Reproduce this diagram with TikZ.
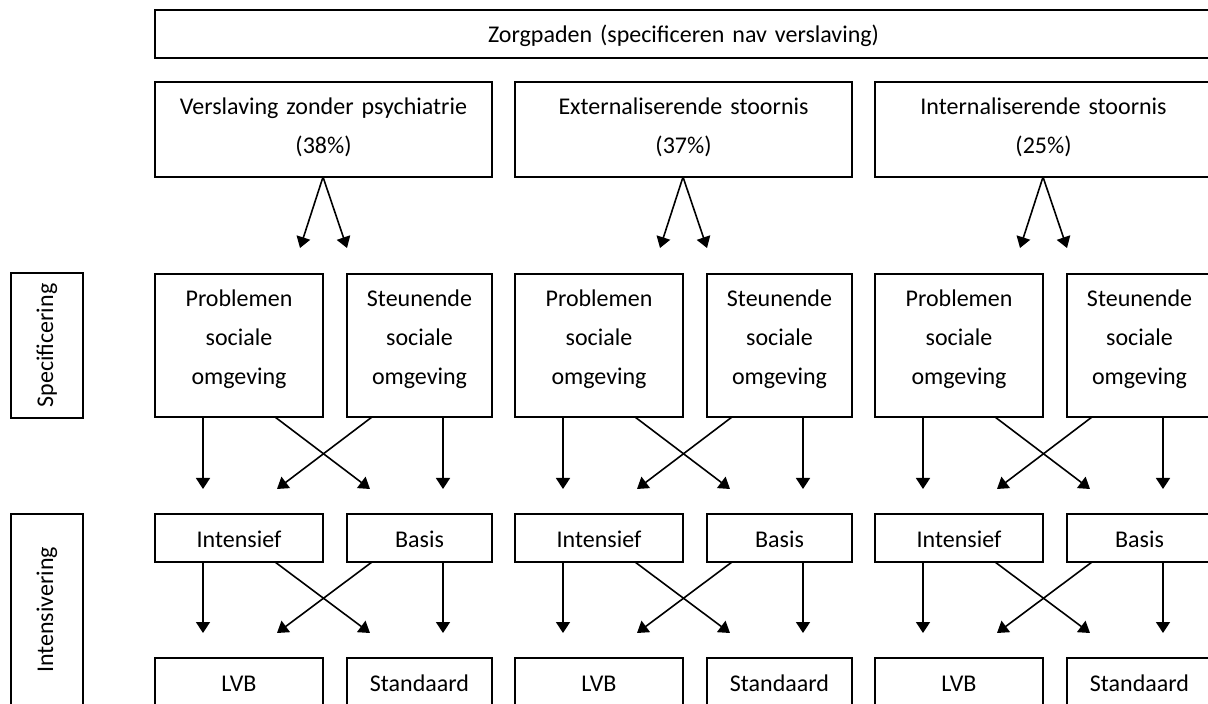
\documentclass[tikz,border=0pt]{standalone}
\usepackage{fontspec}
\setmainfont{Carlito}
\usetikzlibrary{arrows.meta}

\begin{document}
\begin{tikzpicture}[x=0.5pt,y=-0.5pt,
    every node/.style={font=\fontsize{12}{19.5}\selectfont},
    cell/.style 2 args={draw,semithick,inner sep=0pt,outer sep=0pt,anchor=north west,align=center,
      text width=#1,text height=16.5pt,text depth=#2},
    sidebox/.style={draw,semithick,inner sep=0pt,rotate=90,minimum width=#1,minimum height=36pt},
    >={Triangle[width=7pt,length=5.5pt]}]
    \useasboundingbox (0,0) rectangle (1208,704);
    \node[cell={528.5pt}{7.5pt}] (zorg) at (155,10) {Zorgpaden (specificeren nav verslaving)};
    \node[sidebox=72.5pt] (spec) at (47,345.5) {Specificering};
    \node[sidebox=96pt] (intens) at (47,610) {Intensivering};
    \foreach \x/\grp/\pct [count=\c] in {155/Verslaving zonder psychiatrie/38,
        515/Externaliserende stoornis/37, 875/Internaliserende stoornis/25}{
      \node[cell={168.5pt}{31pt}] (v\c) at (\x,82) {\grp\\(\pct\%)};
      \node[cell={84pt}{55pt}] (p\c) at (\x,274) {Problemen\\sociale\\omgeving};
      \node[cell={72.5pt}{55pt}] (s\c) at (\x+192,274) {Steunende\\sociale\\omgeving};
      \node[cell={84pt}{7.5pt}] (i\c) at (\x,514) {Intensief};
      \node[cell={72.5pt}{7.5pt}] (b\c) at (\x+192,514) {Basis};
      \node[cell={84pt}{7.5pt}] (l\c) at (\x,658) {LVB};
      \node[cell={72.5pt}{7.5pt}] (st\c) at (\x+192,658) {Standaard};
      % free arrow ends
      \coordinate (ta\c) at (\x+145,248);
      \coordinate (tb\c) at (\x+192,248);
      \coordinate (m\c1) at (\x+48,489);
      \coordinate (m\c2) at (\x+215,489);
      \coordinate (m\c3) at (\x+122,489);
      \coordinate (m\c4) at (\x+288,489);
      \coordinate (n\c1) at (\x+48,633);
      \coordinate (n\c2) at (\x+215,633);
      \coordinate (n\c3) at (\x+122,633);
      \coordinate (n\c4) at (\x+288,633);
      \draw[thick,->] (p\c.north east |- v\c.south) -- (ta\c);
      \draw[thick,->] (p\c.north east |- v\c.south) -- (tb\c);
      \draw[thick,->] ([xshift=24pt]p\c.south west) -- (m\c1);
      \draw[thick,->] ([xshift=-24pt]p\c.south east) -- (m\c2);
      \draw[thick,->] ([xshift=12.5pt]s\c.south west) -- (m\c3);
      \draw[thick,->] ([xshift=-24.5pt]s\c.south east) -- (m\c4);
      \draw[thick,->] ([xshift=24pt]i\c.south west) -- (n\c1);
      \draw[thick,->] ([xshift=-24pt]i\c.south east) -- (n\c2);
      \draw[thick,->] ([xshift=12.5pt]b\c.south west) -- (n\c3);
      \draw[thick,->] ([xshift=-24.5pt]b\c.south east) -- (n\c4);
    }
  \end{tikzpicture}
\end{document}
